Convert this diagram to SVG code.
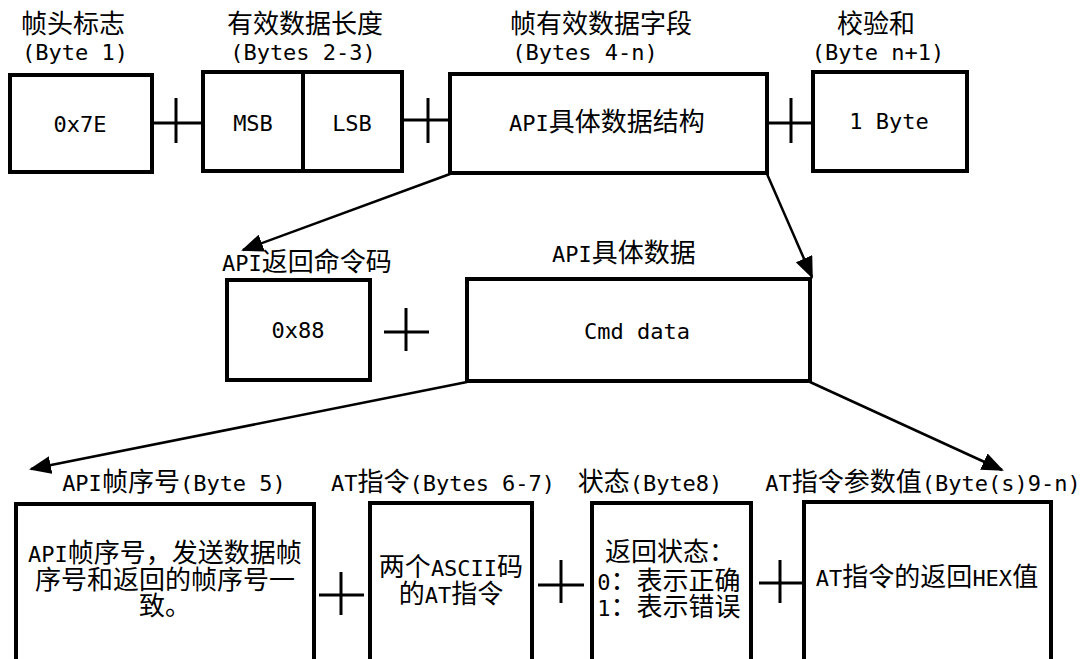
<svg xmlns="http://www.w3.org/2000/svg" width="1089" height="659" viewBox="0 0 1089 659">
<style>
rect.b{fill:#fff;stroke:#000;stroke-width:4}
line.p{stroke:#000;stroke-width:3}
line.a{stroke:#000;stroke-width:2.5;marker-end:url(#ah)}
text{font-family:"DejaVu Sans Mono","Liberation Mono","Noto Sans CJK SC",monospace;font-size:22px;fill:#000;text-anchor:middle}
.c{font-family:"Noto Sans CJK SC","Liberation Sans",sans-serif;font-size:26px}
</style>
<defs>
<marker id="ah" markerUnits="userSpaceOnUse" markerWidth="22" markerHeight="18" refX="20" refY="9" orient="auto">
<path d="M0,0 L22,9 L0,18 z" fill="#000"/>
</marker>
</defs>
<rect width="1089" height="659" fill="#fff"/>

<g id="connectors">
<line class="p" x1="152" y1="123" x2="203" y2="123"/>
<line class="p" x1="176" y1="98" x2="176" y2="143"/>
<line class="p" x1="402" y1="120" x2="450" y2="120"/>
<line class="p" x1="428" y1="98" x2="428" y2="143"/>
<line class="p" x1="767" y1="123" x2="813" y2="123"/>
<line class="p" x1="791" y1="98" x2="791" y2="143"/>
<line class="p" x1="384" y1="332" x2="429" y2="332"/>
<line class="p" x1="406" y1="308" x2="406" y2="351"/>
<line class="p" x1="319" y1="595" x2="364" y2="595"/>
<line class="p" x1="341" y1="572" x2="341" y2="615"/>
<line class="p" x1="538" y1="585" x2="584" y2="585"/>
<line class="p" x1="561" y1="560" x2="561" y2="603"/>
<line class="p" x1="759" y1="583" x2="803" y2="583"/>
<line class="p" x1="780" y1="560" x2="780" y2="603"/>
<line class="a" x1="450" y1="174" x2="243" y2="250"/>
<line class="a" x1="767" y1="174" x2="812" y2="277"/>
<line class="a" x1="810" y1="382" x2="1002" y2="470"/>
<line class="a" x1="467" y1="382" x2="31" y2="469"/>
</g>

<g id="header">
<text x="73" y="33"><tspan class="c">帧头标志</tspan></text>
<text x="75" y="60">(Byte 1)</text>
<rect class="b" x="10" y="75" width="142" height="97"/>
<text x="80" y="132">0x7E</text>
</g>

<g id="length">
<text x="305" y="33"><tspan class="c">有效数据长度</tspan></text>
<text x="303" y="60">(Bytes 2-3)</text>
<rect class="b" x="203" y="72" width="199" height="99"/>
<line class="p" x1="303" y1="72" x2="303" y2="171" style="stroke-width:4"/>
<text x="253" y="131">MSB</text>
<text x="352" y="131">LSB</text>
</g>

<g id="payload">
<text x="601" y="33"><tspan class="c">帧有效数据字段</tspan></text>
<text x="585" y="60">(Bytes 4-n)</text>
<rect class="b" x="450" y="74" width="317" height="99"/>
<text x="607" y="131">API<tspan class="c">具体数据结构</tspan></text>
</g>

<g id="checksum">
<text x="876" y="33"><tspan class="c">校验和</tspan></text>
<text x="878" y="60">(Byte n+1)</text>
<rect class="b" x="813" y="72" width="154" height="99"/>
<text x="889" y="129">1 Byte</text>
</g>

<g id="cmd-id">
<text x="307" y="271">API<tspan class="c">返回命令码</tspan></text>
<rect class="b" x="227" y="280" width="143" height="100"/>
<text x="298" y="338">0x88</text>
</g>

<g id="cmd-data">
<text x="624" y="262">API<tspan class="c">具体数据</tspan></text>
<rect class="b" x="467" y="279" width="343" height="102"/>
<text x="637" y="339">Cmd data</text>
</g>

<g id="frame-id">
<text x="174" y="491">API<tspan class="c">帧序号</tspan>(Byte 5)</text>
<rect class="b" x="16" y="504" width="298" height="170"/>
<text x="165" y="562">API<tspan class="c">帧序号，发送数据帧</tspan></text>
<text x="165" y="589"><tspan class="c">序号和返回的帧序号一</tspan></text>
<text x="165" y="615"><tspan class="c">致。</tspan></text>
</g>

<g id="at-command">
<text x="443" y="491">AT<tspan class="c">指令</tspan>(Bytes 6-7)</text>
<rect class="b" x="370" y="503" width="162" height="170"/>
<text x="451" y="576"><tspan class="c">两个</tspan>ASCII<tspan class="c">码</tspan></text>
<text x="451" y="603"><tspan class="c">的</tspan>AT<tspan class="c">指令</tspan></text>
</g>

<g id="status">
<text x="650" y="491"><tspan class="c">状态</tspan>(Byte8)</text>
<rect class="b" x="592" y="503" width="159" height="170"/>
<text x="670" y="561"><tspan class="c">返回状态：</tspan></text>
<text x="669" y="590">0<tspan class="c">：表示正确</tspan></text>
<text x="669" y="616">1<tspan class="c">：表示错误</tspan></text>
</g>

<g id="at-value">
<text x="923" y="491">AT<tspan class="c">指令参数值</tspan>(Byte(s)9-n)</text>
<rect class="b" x="804" y="502" width="247" height="170"/>
<text x="927" y="586">AT<tspan class="c">指令的返回</tspan>HEX<tspan class="c">值</tspan></text>
</g>
</svg>
